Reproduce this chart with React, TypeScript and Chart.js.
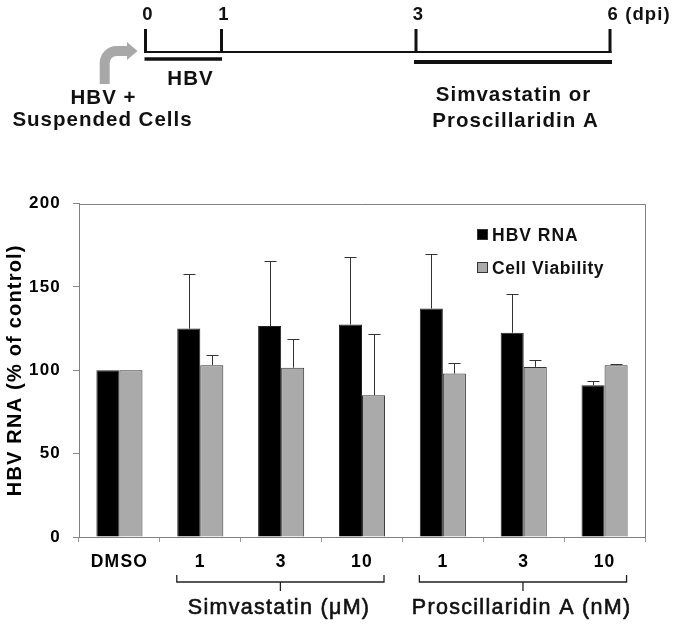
import React, { useEffect, useRef } from 'react';
import { Chart, registerables } from 'chart.js';

Chart.register(...registerables);

// ---------- data ----------
const categories = ['DMSO', '1', '3', '10', '1', '3', '10'];
const hbvRna = [100, 125, 126.5, 127.5, 137, 122.5, 91];
const hbvRnaErr = [0, 33, 39, 40.5, 33, 23.5, 2.5];
const cellViability = [100, 103, 101.5, 85, 98, 102, 103];
const cellViabilityErr = [0, 6, 17.5, 37, 6.5, 4, 0.7];
const yTicks = [0, 50, 100, 150, 200];
const seriesLabels = ['HBV RNA', 'Cell Viability'];
const groupLabels = ['Simvastatin (μM)', 'Proscillaridin A (nM)'];
const groupFrom = [1, 4];
const groupTo = [3, 6];
const timelineDays = ['0', '1', '3', '6'];
const yTitle = 'HBV RNA (% of control)';

const FONT = '"Liberation Sans", Arial, Helvetica, sans-serif';

function drawText(ctx: any, s: string, x: number, y: number, font: string, align: string, spacing: number, stroke = 0, color = '#111') {
  ctx.save();
  ctx.font = font;
  ctx.textAlign = align;
  ctx.textBaseline = 'alphabetic';
  ctx.letterSpacing = spacing + 'px';
  ctx.fillStyle = color;
  let dx = 0;
  if (align === 'center') dx = spacing / 2;
  else if (align === 'right') dx = spacing;
  ctx.fillText(s, x + dx, y);
  if (stroke > 0) {
    ctx.strokeStyle = color;
    ctx.lineWidth = stroke;
    ctx.lineJoin = 'round';
    ctx.strokeText(s, x + dx, y);
  }
  ctx.restore();
}

const spacingPlugin = {
  id: 'spacing',
  beforeDraw(chart: any) {
    (chart.ctx as any).letterSpacing = '1.2px';
  },
};

const timelinePlugin = {
  id: 'timeline',
  afterDraw(chart: any) {
    const ctx = chart.ctx;
    ctx.save();
    const tx = [145.5, 221.5, 416, 610];
    ctx.strokeStyle = '#111';
    ctx.lineCap = 'butt';
    // main line
    ctx.lineWidth = 2;
    ctx.beginPath();
    ctx.moveTo(144, 52);
    ctx.lineTo(611.5, 52);
    ctx.stroke();
    // ticks
    ctx.lineWidth = 3;
    tx.forEach((x) => {
      ctx.beginPath();
      ctx.moveTo(x, 29);
      ctx.lineTo(x, 53);
      ctx.stroke();
    });
    // HBV bar
    ctx.lineWidth = 3.5;
    ctx.beginPath();
    ctx.moveTo(144.5, 59);
    ctx.lineTo(222, 59);
    ctx.stroke();
    // treatment bar
    ctx.lineWidth = 4;
    ctx.beginPath();
    ctx.moveTo(414, 62);
    ctx.lineTo(612, 62);
    ctx.stroke();
    // gray arrow
    ctx.strokeStyle = '#a8a8a8';
    ctx.fillStyle = '#a8a8a8';
    ctx.lineWidth = 10;
    ctx.beginPath();
    ctx.moveTo(104.7, 84);
    ctx.lineTo(104.7, 64);
    ctx.arcTo(104.7, 51, 117, 51, 12);
    ctx.lineTo(128, 51);
    ctx.stroke();
    ctx.beginPath();
    ctx.moveTo(127, 42);
    ctx.lineTo(137.5, 51);
    ctx.lineTo(127, 60);
    ctx.closePath();
    ctx.fill();
    ctx.restore();

    const bold18 = `bold 18.5px ${FONT}`;
    timelineDays.forEach((d, i) => {
      if (i === timelineDays.length - 1) {
        drawText(ctx, `${d} (dpi)`, tx[i] - 2.5, 19.5, bold18, 'left', 1.1);
      } else {
        drawText(ctx, d, tx[i] + 2, 19.5, bold18, 'center', 1.1);
      }
    });
    const bold20 = `bold 20.5px ${FONT}`;
    drawText(ctx, 'HBV', 190, 85, bold20, 'center', 1.0);
    drawText(ctx, 'HBV +', 103, 104, bold20, 'center', 1.0);
    drawText(ctx, 'Suspended Cells', 102, 125.7, bold20, 'center', 1.0);
    drawText(ctx, 'Simvastatin or', 513, 100.7, bold20, 'center', 1.0);
    drawText(ctx, 'Proscillaridin A', 515, 126.7, bold20, 'center', 1.0);
  },
};

const errorBarPlugin = {
  id: 'errorBars',
  afterDatasetsDraw(chart: any) {
    const ctx = chart.ctx;
    const yScale = chart.scales.y;
    const errs = [hbvRnaErr, cellViabilityErr];
    ctx.save();
    ctx.strokeStyle = '#333';
    ctx.lineWidth = 1;
    errs.forEach((arr, di) => {
      const meta = chart.getDatasetMeta(di);
      const vals = chart.data.datasets[di].data;
      meta.data.forEach((bar: any, i: number) => {
        const e = arr[i];
        if (!e) return;
        const x = Math.round(bar.x) + 0.5;
        const yTop = Math.round(yScale.getPixelForValue(vals[i] + e)) + 0.5;
        ctx.beginPath();
        ctx.moveTo(x, bar.y);
        ctx.lineTo(x, yTop);
        ctx.moveTo(x - 6, yTop);
        ctx.lineTo(x + 6, yTop);
        ctx.stroke();
      });
    });
    ctx.restore();
  },
};

const framePlugin = {
  id: 'frame',
  afterDraw(chart: any) {
    const ctx = chart.ctx;
    const { left, right, top, bottom } = chart.chartArea;
    ctx.save();
    ctx.strokeStyle = '#808080';
    ctx.lineWidth = 1;
    ctx.beginPath();
    ctx.moveTo(left, Math.round(top) + 0.5);
    ctx.lineTo(Math.round(right) + 0.5, Math.round(top) + 0.5);
    ctx.lineTo(Math.round(right) + 0.5, bottom);
    ctx.stroke();
    ctx.restore();

    // legend
    const ds = chart.data.datasets;
    ds.forEach((d: any, i: number) => {
      const bx = left + 398;
      const by = top + 25.5 + i * 33;
      ctx.save();
      ctx.fillStyle = d.backgroundColor;
      ctx.fillRect(bx, by, 11, 11);
      ctx.strokeStyle = '#333';
      ctx.lineWidth = 1;
      ctx.strokeRect(bx + 0.5, by + 0.5, 10, 10);
      ctx.restore();
      drawText(ctx, d.label, bx + 15, by + 12, `bold 17.5px ${FONT}`, 'left', i === 0 ? 1 : 0.6);
    });

    // group brackets
    const xs = chart.scales.x;
    ctx.save();
    ctx.strokeStyle = '#222';
    ctx.lineWidth = 1.3;
    groupLabels.forEach((label, g) => {
      const x1 = xs.getPixelForValue(groupFrom[g]) - 23.5;
      const x2 = xs.getPixelForValue(groupTo[g]) + 22;
      const mid = (x1 + x2) / 2;
      const yb = bottom + 45;
      ctx.beginPath();
      ctx.moveTo(x1, bottom + 38);
      ctx.lineTo(x1, yb);
      ctx.lineTo(x2, yb);
      ctx.lineTo(x2, bottom + 38);
      ctx.moveTo(mid, yb);
      ctx.lineTo(mid, yb + 9);
      ctx.stroke();
      drawText(ctx, label, mid - 2, bottom + 76.5, `21.5px ${FONT}`, 'center', 1.3, 0.6);
    });
    ctx.restore();
  },
};

export default function App() {
  const ref = useRef<HTMLCanvasElement>(null);
  useEffect(() => {
    document.body.style.margin = '0';
    const canvas = ref.current!;
    const chart = new Chart(canvas, {
      type: 'bar',
      data: {
        labels: categories,
        datasets: [
          {
            label: seriesLabels[0],
            data: hbvRna,
            backgroundColor: '#000000',
            borderColor: '#222222',
            borderWidth: 1,
            categoryPercentage: 0.57,
            barPercentage: 1.0,
          },
          {
            label: seriesLabels[1],
            data: cellViability,
            backgroundColor: '#aaaaaa',
            borderColor: '#333333',
            borderWidth: 1,
            categoryPercentage: 0.57,
            barPercentage: 1.0,
          },
        ],
      },
      options: {
        responsive: false,
        maintainAspectRatio: false,
        animation: false,
        devicePixelRatio: 1,
        layout: { padding: { top: 203.5, right: 30, bottom: 0, left: 0 } },
        plugins: {
          legend: { display: false },
          tooltip: { enabled: false },
        },
        scales: {
          x: {
            type: 'category',
            offset: true,
            grid: {
              offset: true,
              drawOnChartArea: false,
              drawTicks: true,
              tickLength: 5,
              color: '#999',
            },
            border: { display: true, color: '#808080', width: 1 },
            ticks: {
              color: '#000',
              font: { family: FONT, size: 17.5, weight: 'bold' },
              padding: 10,
              maxRotation: 0,
              autoSkip: false,
            },
            afterFit: (s: any) => {
              s.height = 87;
            },
          },
          y: {
            min: 0,
            max: 200,
            afterBuildTicks: (s: any) => {
              s.ticks = yTicks.map((v) => ({ value: v }));
            },
            grid: {
              drawOnChartArea: false,
              drawTicks: true,
              tickLength: 6,
              color: '#888',
            },
            border: { display: true, color: '#808080', width: 1 },
            ticks: {
              color: '#000',
              font: { family: FONT, size: 17, weight: 'bold' },
              padding: 12,
            },
            title: {
              display: true,
              text: yTitle,
              color: '#000',
              font: { family: FONT, size: 20, weight: 'bold' },
              padding: { top: 3, bottom: 0 },
            },
            afterFit: (s: any) => {
              s.width = 79;
            },
          },
        },
      } as any,
      plugins: [spacingPlugin, errorBarPlugin, framePlugin, timelinePlugin],
    });
    return () => chart.destroy();
  }, []);
  return (
    <canvas
      ref={ref}
      width={675}
      height={624}
      style={{ display: 'block', width: 675, height: 624 }}
    />
  );
}
